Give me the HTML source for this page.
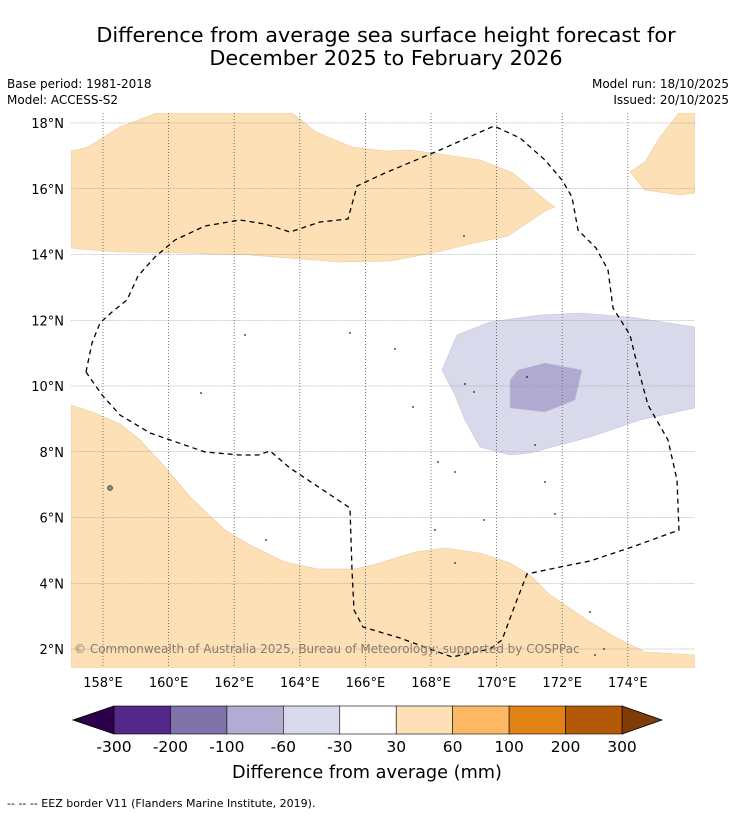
<!DOCTYPE html>
<html><head><meta charset="utf-8"><style>
html,body{margin:0;padding:0;background:#fff;}
body{width:736px;height:816px;position:relative;overflow:hidden;font-family:"DejaVu Sans","Liberation Sans",sans-serif;}
svg{position:absolute;left:0;top:0;}
</style></head><body>
<svg width="736" height="816" viewBox="0 0 736 816" font-family="DejaVu Sans, Liberation Sans, sans-serif">
<text x="386" y="42" font-size="20.8" text-anchor="middle">Difference from average sea surface height forecast for</text>
<text x="386" y="65" font-size="20.8" text-anchor="middle">December 2025 to February 2026</text>
<text x="7" y="88" font-size="12">Base period: 1981-2018</text>
<text x="7" y="104" font-size="12">Model: ACCESS-S2</text>
<text x="729" y="88" font-size="12" text-anchor="end">Model run: 18/10/2025</text>
<text x="729" y="104" font-size="12" text-anchor="end">Issued: 20/10/2025</text>
<g id="map"></g>
<g id="cbar"></g>
<text x="367" y="778" font-size="17.7" text-anchor="middle">Difference from average (mm)</text>
<text x="7" y="807" font-size="11">--  --  -- EEZ border V11 (Flanders Marine Institute, 2019).</text>
</svg>
<script>
const NS='http://www.w3.org/2000/svg';
const lonTicks=[158,160,162,164,166,168,170,172,174];
const latTicks=[18,16,14,12,10,8,6,4,2];
const cbLevels=['-300','-200','-100','-60','-30','30','60','100','200','300'];
const cbColors=['#542788','#8073ac','#b2abd2','#d8daeb','#ffffff','#fee0b6','#fdb863','#e08214','#b35806'];
const xOf=lon=>103+(lon-158)*32.8;
const yOf=lat=>123+(18-lat)*32.875;
function mk(tag,attrs,parent){const e=document.createElementNS(NS,tag);for(const k in attrs)e.setAttribute(k,attrs[k]);parent.appendChild(e);return e;}
const map=document.getElementById('map');
const cp=mk('clipPath',{id:'mclip'},map);mk('rect',{x:71,y:113,width:624,height:555},cp);
const g=mk('g',{'clip-path':'url(#mclip)'},map);
const shapes=[
 ['anomaly-30-60-north','#fde0b6','71,151 88,147 120,127 157,113 292,113 316,132 352,147 385,151 410,150 440,154 480,160 513,173 545,200 555,207 545,211 508,236 470,244 433,253 390,261 340,262 300,259 250,255 180,253 120,252 90,250 71,248'],
 ['anomaly-30-60-northeast','#fde0b6','630,172 645,162 660,137 679,113 695,113 695,193 680,195 645,190'],
 ['anomaly-30-60-south','#fde0b6','71,405 95,413 120,424 140,440 165,467 190,497 225,530 250,545 285,562 318,569 355,569 380,563 415,552 445,548 480,553 510,563 530,575 550,595 565,605 590,622 615,637 645,652 695,655 695,668 71,668'],
 ['anomaly-minus60-minus30','#d8daeb','442,370 457,335 490,322 540,315 580,313 630,317 695,327 695,408 640,420 590,437 560,445 530,453 510,455 480,447 465,420 455,395'],
 ['anomaly-minus100-minus60','#b0a9d0','510,380 518,370 545,363 582,370 575,400 545,412 510,408']
];
for(const s of shapes){const p=mk('polygon',{points:s[2],fill:s[1],stroke:s[1]==='#fde0b6'?'#e8c9a0':'#c4c2dc','stroke-width':0.6},g);

}
for(const lon of lonTicks){const x=xOf(lon);
const l=mk('line',{x1:x,y1:113,x2:x,y2:668,stroke:'#555','stroke-width':0.8,'stroke-dasharray':'1,2'},map);


const t=mk('text',{x:x,y:687,'font-size':13,'text-anchor':'middle'},map);t.textContent=lon+'°E';

}
for(const lat of latTicks){const y=yOf(lat);
const l=mk('line',{x1:71,y1:y,x2:695,y2:y,stroke:'#999','stroke-width':0.6,'stroke-dasharray':'1,0.5'},map);


const t=mk('text',{x:64,y:y+5,'font-size':13,'text-anchor':'end'},map);t.textContent=lat+'°N';

}
const eez=mk('polyline',{points:'86,372 92,343 100,323 112,312 127,300 138,276 155,257 175,240 205,226 240,220 265,224 290,232 320,222 348,219 357,186 385,173 440,150 494,126 520,138 545,160 562,180 572,197 578,230 596,248 608,270 613,308 630,335 638,368 648,405 668,440 677,480 679,530 635,546 590,561 560,567 527,574 515,605 502,640 490,649 452,657 400,638 363,627 354,610 352,570 350,508 320,488 290,468 270,451 258,455 240,455 205,452 150,433 120,415 102,395 86,372',fill:'none',stroke:'#000','stroke-width':1.3,'stroke-dasharray':'5,4'},map);


const isl=[[110,488],[266,540],[245,335],[350,333],[395,349],[527,377],[465,384],[474,392],[413,407],[535,445],[438,462],[455,472],[545,482],[555,514],[484,520],[435,530],[455,563],[590,612],[604,649],[595,655],[464,236],[201,393]];
for(const p of isl){const c=mk('circle',{cx:p[0],cy:p[1],r:p[0]===110?2.5:0.6,fill:p[0]===110?'#888':'#000',stroke:'#000','stroke-width':0.5},map);

}
const cr=mk('text',{x:74,y:653,'font-size':12,fill:'#8a7a6a'},map);cr.textContent='© Commonwealth of Australia 2025, Bureau of Meteorology; supported by COSPPac';


const cb=document.getElementById('cbar');
const x0=114,x1=622,y0=706,y1=734,w=(x1-x0)/cbColors.length;
const lt=mk('polygon',{points:`${x0},${y0} 73,${(y0+y1)/2} ${x0},${y1}`,fill:'#2d004b',stroke:'#000','stroke-width':0.8},cb);


const rt=mk('polygon',{points:`${x1},${y0} 662,${(y0+y1)/2} ${x1},${y1}`,fill:'#7f3b08',stroke:'#000','stroke-width':0.8},cb);


cbColors.forEach((c,i)=>{const r=mk('rect',{x:x0+i*w,y:y0,width:w,height:y1-y0,fill:c,stroke:'#000','stroke-width':0.6},cb);

});
cbLevels.forEach((s,i)=>{const t=mk('text',{x:x0+i*w,y:752,'font-size':15.5,'text-anchor':'middle'},cb);t.textContent=s;

});
</script>
</body></html>
